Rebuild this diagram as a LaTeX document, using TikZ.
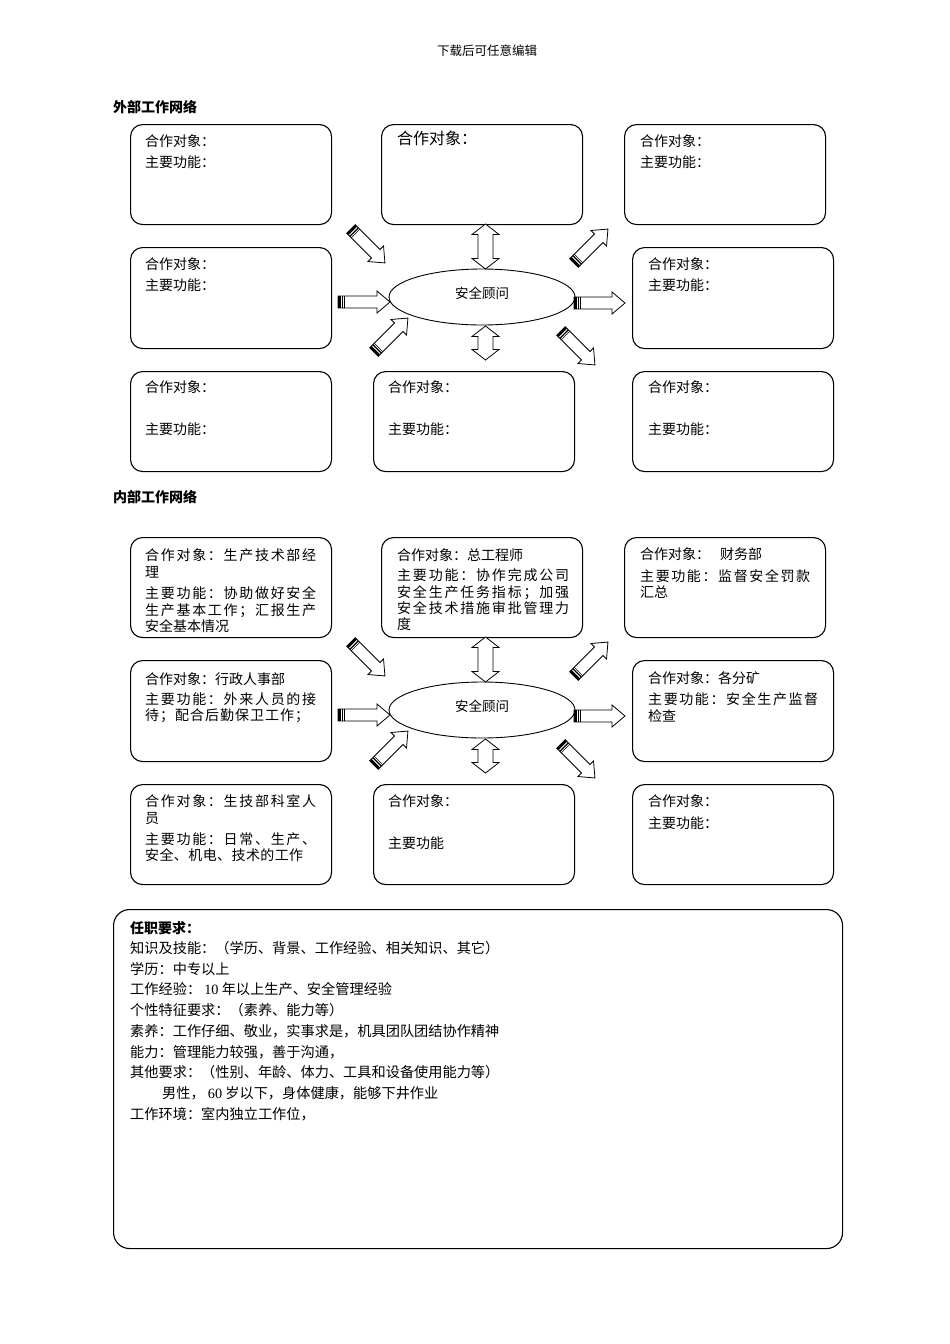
\documentclass[tikz,border=0pt]{standalone}
\usepackage{fontspec}
\setmainfont{Noto Sans CJK SC}
\newfontfamily\numfont{Liberation Serif}
\usetikzlibrary{shapes.geometric}
\makeatletter
\def\jl@#1#2{#1\ifx\relax#2\else\hfill\expandafter\jl@\expandafter#2\fi}
\newcommand\jline[2][171pt]{\hbox to #1{\jl@#2\relax}}
\makeatother
\tikzset{
  box/.style={draw, line width=1.1pt, rounded corners=12pt, anchor=north west, inner sep=0pt, minimum width=201pt, minimum height=100pt},
  txt/.style={anchor=base west, inner sep=0pt, font=\fontsize{14pt}{16pt}\selectfont},
  rtxt/.style={anchor=base west, inner sep=0pt, font=\fontsize{14.2pt}{16pt}\selectfont},
  hd/.style={anchor=base west, inner sep=0pt, font=\fontsize{14pt}{16pt}\selectfont\bfseries},
  lbl/.style={inner sep=0pt, font=\fontsize{12.5pt}{14pt}\selectfont},
  hubell/.style={ellipse, draw, line width=0.9pt, minimum width=186pt, minimum height=56pt, inner sep=0pt},
  barrow/.style={draw, fill=white, line width=0.8pt, line join=miter}
}
% text line: name, x, center y, text
\newcommand\T[4]{\node[txt] (#1) at ({#2},{#3+5.2}) {#4};}
\newcommand\R[4]{\node[rtxt] (#1) at ({#2},{#3+5.3}) {#4};}
% striped block arrow: tail x, tail y, angle, length
\newcommand\sarrow[4]{%
  \begin{scope}[shift={({#1},{#2})},rotate=#3]
    \draw[barrow] (0,-6) -- ({#4-13},-6) -- ({#4-13},-11) -- ({#4},0) -- ({#4-13},11) -- ({#4-13},6) -- (0,6) -- cycle;
    \fill[black] (0,-6) rectangle (2.6,6);
    \fill[black] (3.8,-6) rectangle (5,6);
    \draw[line width=0.6pt] (6.4,-6) -- (6.4,6);
  \end{scope}}
% double vertical block arrow: x, y top, y bottom
\newcommand\darrow[3]{%
  \draw[barrow] ({#1},{#2}) -- ({#1+13.5},{#2+10.5}) -- ({#1+7.5},{#2+10.5}) -- ({#1+7.5},{#3-10.5}) -- ({#1+13.5},{#3-10.5}) -- ({#1},{#3}) -- ({#1-13.5},{#3-10.5}) -- ({#1-7.5},{#3-10.5}) -- ({#1-7.5},{#2+10.5}) -- ({#1-13.5},{#2+10.5}) -- cycle;}
% hub: name prefix, y offset
\newcommand\hub[2]{%
  \darrow{485.5}{224+#2}{269+#2}
  \darrow{485.5}{326+#2}{360+#2}
  \sarrow{338}{302+#2}{0}{52}
  \sarrow{574}{303+#2}{0}{51}
  \sarrow{351}{229+#2}{-45}{48}
  \sarrow{574}{263+#2}{45}{48}
  \sarrow{374}{352+#2}{45}{48}
  \sarrow{561}{331+#2}{-45}{48}
  \node[hubell] (#1c) at (482,{297+#2}) {};
  \node[lbl, font=\fontsize{13.5pt}{15pt}\selectfont] (#1ct) at (482,{293+#2}) {安全顾问};}
\begin{document}
\begin{tikzpicture}[x=1pt,y=-1pt]
\useasboundingbox[fill=white] (0,0) rectangle (950,1344);

\node[lbl, anchor=base] (header) at (487,55.5) {下载后可任意编辑};

% ---------- external network ----------
\node[hd] (h1) at (113,112) {外部工作网络};
\node[box] (eTL) at (130,124) {};
\node[box] (eTC) at (381,124) {};
\node[box] (eTR) at (624,124) {};
\node[box, minimum height=101pt] (eML) at (130,247) {};
\node[box, minimum height=101pt] (eMR) at (632,247) {};
\node[box] (eBL) at (130,371) {};
\node[box] (eBC) at (373,371) {};
\node[box] (eBR) at (632,371) {};
\hub{e}{0}
\T{eTLa}{145}{141}{合作对象：}
\T{eTLb}{145}{162}{主要功能：}
\node[anchor=base west, inner sep=0pt, font=\fontsize{16pt}{18pt}\selectfont] (eTCa) at (397,144) {合作对象：};
\T{eTRa}{640}{141}{合作对象：}
\T{eTRb}{640}{162}{主要功能：}
\T{eMLa}{145}{264}{合作对象：}
\T{eMLb}{145}{285}{主要功能：}
\T{eMRa}{648}{264}{合作对象：}
\T{eMRb}{648}{285}{主要功能：}
\T{eBLa}{145}{387}{合作对象：}
\T{eBLb}{145}{429}{主要功能：}
\T{eBCa}{388}{387}{合作对象：}
\T{eBCb}{388}{429}{主要功能：}
\T{eBRa}{648}{387}{合作对象：}
\T{eBRb}{648}{429}{主要功能：}

% ---------- internal network ----------
\node[hd] (h2) at (113,502) {内部工作网络};
\node[box] (iTL) at (130,537) {};
\node[box] (iTC) at (381,537) {};
\node[box] (iTR) at (624,537) {};
\node[box, minimum height=101pt] (iML) at (130,660) {};
\node[box, minimum height=101pt] (iMR) at (632,660) {};
\node[box] (iBL) at (130,784) {};
\node[box] (iBC) at (373,784) {};
\node[box] (iBR) at (632,784) {};
\hub{i}{413}
\T{iTLa}{145}{555}{\jline{合作对象：生产技术部经}}
\T{iTLb}{145}{572}{理}
\T{iTLc}{145}{593}{\jline{主要功能：协助做好安全}}
\T{iTLd}{145}{610}{\jline{生产基本工作；汇报生产}}
\T{iTLe}{145}{626}{安全基本情况}
\T{iTCa}{397}{555}{合作对象：总工程师}
\T{iTCb}{397}{575}{\jline[172pt]{主要功能：协作完成公司}}
\T{iTCc}{397}{592}{\jline[172pt]{安全生产任务指标；加强}}
\T{iTCd}{397}{608}{\jline[172pt]{安全技术措施审批管理力}}
\T{iTCe}{397}{624}{度}
\T{iTRa}{640}{554}{合作对象：\hspace{10pt}财务部}
\T{iTRb}{640}{576}{\jline[170pt]{主要功能：监督安全罚款}}
\T{iTRc}{640}{592}{汇总}
\T{iMLa}{145}{679}{合作对象：行政人事部}
\T{iMLb}{145}{699}{\jline{主要功能：外来人员的接}}
\T{iMLc}{145}{715}{\jline[164pt]{待；配合后勤保卫工作；}}
\T{iMRa}{648}{678}{合作对象：各分矿}
\T{iMRb}{648}{699}{\jline[170pt]{主要功能：安全生产监督}}
\T{iMRc}{648}{716}{检查}
\T{iBLa}{145}{801}{\jline{合作对象：生技部科室人}}
\T{iBLb}{145}{818}{员}
\T{iBLc}{145}{839}{\jline{主要功能：日常、生产、}}
\T{iBLd}{145}{855}{\jline[158pt]{安全、机电、技术的工作}}
\T{iBCa}{388}{801}{合作对象：}
\T{iBCb}{388}{843}{主要功能}
\T{iBRa}{648}{801}{合作对象：}
\T{iBRb}{648}{823}{主要功能：}

% ---------- requirements ----------
\node[box, rounded corners=16pt, minimum width=729pt, minimum height=339pt] (req) at (113,909) {};
\node[hd] (r0) at (130,933.2) {任职要求：};
\R{r1}{130}{948}{知识及技能：（学历、背景、工作经验、相关知识、其它）}
\R{r2}{130}{969}{学历：中专以上}
\R{r3}{130}{989}{工作经验：\ {\numfont 10}\ 年以上生产、安全管理经验}
\R{r4}{130}{1010}{个性特征要求：（素养、能力等）}
\R{r5}{130}{1031}{素养：工作仔细、敬业，实事求是，机具团队团结协作精神}
\R{r6}{130}{1052}{能力：管理能力较强，善于沟通，}
\R{r7}{130}{1072}{其他要求：（性别、年龄、体力、工具和设备使用能力等）}
\R{r8}{162}{1093}{男性，\ {\numfont 60}\ 岁以下，身体健康，能够下井作业}
\R{r9}{130}{1114}{工作环境：室内独立工作位，}
\end{tikzpicture}
\end{document}
